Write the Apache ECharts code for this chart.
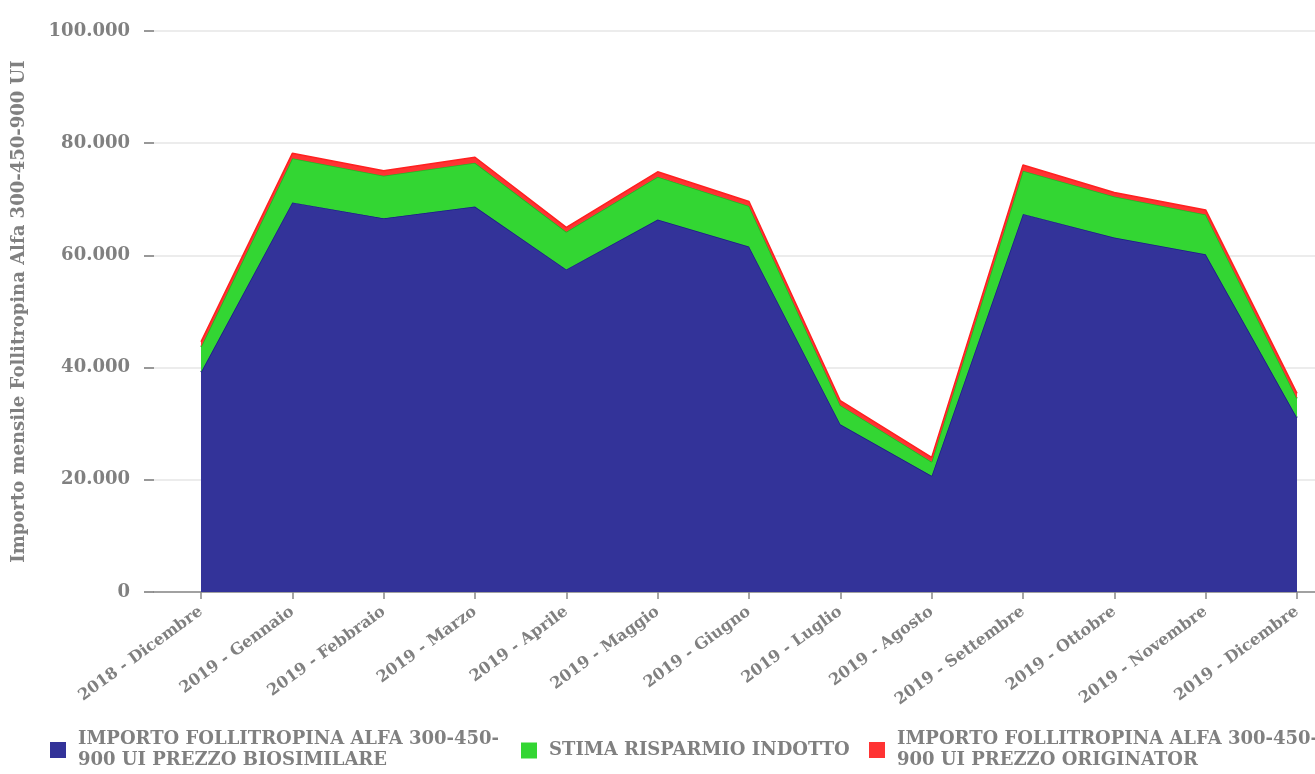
<!DOCTYPE html>
<html>
<head>
<meta charset="utf-8">
<script src="https://cdn.jsdelivr.net/npm/echarts@6/dist/echarts.min.js"></script>
<style>
html,body{margin:0;padding:0;background:#fff;}
#chart{width:1315px;height:774px;}
</style>
</head>
<body>
<div id="chart"></div>
<script>
var categories = ["2018 - Dicembre","2019 - Gennaio","2019 - Febbraio","2019 - Marzo","2019 - Aprile","2019 - Maggio","2019 - Giugno","2019 - Luglio","2019 - Agosto","2019 - Settembre","2019 - Ottobre","2019 - Novembre","2019 - Dicembre"];
var seriesNames = ["IMPORTO FOLLITROPINA ALFA 300-450-900 UI PREZZO BIOSIMILARE","STIMA RISPARMIO INDOTTO","IMPORTO FOLLITROPINA ALFA 300-450-900 UI PREZZO ORIGINATOR"];
var biosimilare = [39200,69450,66600,68700,57500,66400,61600,29900,20700,67400,63200,60200,31100];
var risparmio = [4500,7850,7600,7800,6700,7600,7200,3400,2500,7700,7300,7100,3400];
var originator = [900,900,900,1000,800,900,800,800,800,1000,700,800,900];
var yTicks = [0,20000,40000,60000,80000,100000];
var yAxisName = "Importo mensile Follitropina Alfa 300-450-900 UI";
var legendLabels = ["IMPORTO FOLLITROPINA ALFA 300-450-\n900 UI PREZZO BIOSIMILARE","STIMA RISPARMIO INDOTTO","IMPORTO FOLLITROPINA ALFA 300-450-\n900 UI PREZZO ORIGINATOR"];

var FONT = "DejaVu Serif";
var GREY = "#808080";
function fmtNum(v){ return String(v).replace(/\B(?=(\d{3})+(?!\d))/g, "."); }

var colors = ["#333399","#33d633","#ff3333"];
var lineColors = ["#1c1c8a","#22b822","#ff2020"];
var dataSets = [biosimilare, risparmio, originator];

var chart = echarts.init(document.getElementById('chart'), null, {renderer:'canvas'});
var legendLefts = [45, 516, 864];
var legendTops = [724, 735, 724];

var option = {
  animation:false,
  backgroundColor:"#fff",
  grid:[
    {left:154, right:0, top:31, bottom:182},
    {left:201, right:18, top:31, bottom:182}
  ],
  legend: seriesNames.map(function(n,i){
    return {
      data:[n], left:legendLefts[i], top:legendTops[i], icon:'rect', itemWidth:16, itemHeight:16,
      formatter:function(){ return legendLabels[i]; },
      textStyle:{fontFamily:FONT, fontWeight:'bold', fontSize:18, color:GREY, lineHeight:21, padding:[0,0,0,7]}
    };
  }),
  xAxis:[
    {
      gridIndex:0, type:'value', min:0, max:1,
      splitLine:{show:false}, axisTick:{show:false}, axisLabel:{show:false},
      axisLine:{show:true, lineStyle:{color:'#888', width:1.5}}
    },
    {
      gridIndex:1, type:'category', data:categories, boundaryGap:false,
      axisLine:{show:false},
      splitLine:{show:false},
      axisTick:{show:true, length:7, lineStyle:{color:'#888', width:1.5}},
      axisLabel:{interval:0, rotate:36, margin:18, fontFamily:FONT, fontWeight:'bold', fontSize:16, color:GREY}
    }
  ],
  yAxis:[
    {
      gridIndex:0, type:'value', min:0, max:100000, interval:20000,
      name:yAxisName, nameLocation:'middle', nameGap:126, nameRotate:90,
      nameTextStyle:{fontFamily:FONT, fontWeight:'bold', fontSize:18, color:GREY},
      axisLine:{show:false},
      axisTick:{show:true, length:10, lineStyle:{color:'#777', width:1.5}},
      axisLabel:{margin:24, fontFamily:FONT, fontWeight:'bold', fontSize:18, color:GREY, formatter:function(v){ return fmtNum(v); }},
      splitLine:{show:true, lineStyle:{color:'#e6e6e6', width:1.5}}
    },
    {
      gridIndex:1, type:'value', min:0, max:100000, interval:20000, show:false
    }
  ],
  series: seriesNames.map(function(n,i){
    return {
      name:n, type:'line', stack:'total', symbol:'none', smooth:false,
      xAxisIndex:1, yAxisIndex:1,
      data:dataSets[i],
      itemStyle:{color:colors[i]},
      lineStyle:{color:lineColors[i], width:1.5},
      areaStyle:{color:colors[i], opacity:1},
      z:2+i
    };
  })
};
chart.setOption(option);
</script>
</body>
</html>
